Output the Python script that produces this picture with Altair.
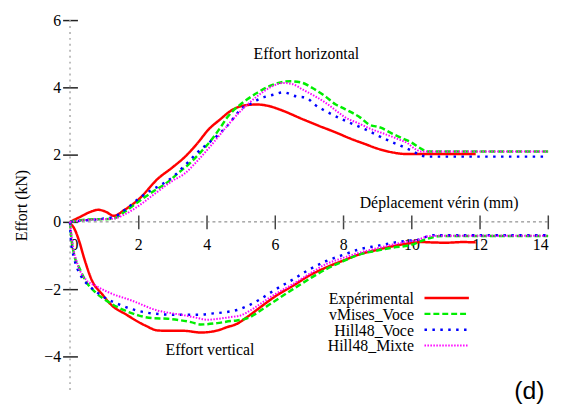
import altair as alt
import pandas as pd

# ---------------- data ----------------
series_names = ["Expérimental", "vMises_Voce", "Hill48_Voce", "Hill48_Mixte"]

# Effort horizontal
exp_h_x = [0, 0.3, 0.6, 0.83, 1.05, 1.28, 1.6, 2.0, 2.58, 3.0, 3.35, 3.7, 4.07, 4.4, 4.69, 5.09, 5.47, 5.8, 6.14,
           6.82, 7.3, 7.78, 8.2, 8.65, 9.0, 9.42, 9.81, 10.5, 11.0, 11.88]
exp_h_y = [0, 0.15, 0.3, 0.36, 0.3, 0.18, 0.36, 0.66, 1.29, 1.62, 1.92, 2.3, 2.76, 3.05, 3.29, 3.46, 3.49, 3.45, 3.34,
           3.05, 2.85, 2.66, 2.48, 2.31, 2.18, 2.07, 2.02, 2.02, 2.02, 2.02]

vm_h_x = [0, 0.3, 0.7, 1.0, 1.28, 1.6, 2.0, 2.4, 2.87, 3.2, 3.54, 3.85, 4.12, 4.4, 4.6, 4.8, 4.99, 5.2, 5.47, 5.8,
          6.1, 6.43, 6.75, 7.1, 7.45, 7.78, 8.0, 8.27, 8.5, 8.75, 9.1, 9.42, 9.7, 10.0, 10.29, 10.45, 11, 12, 13, 14]
vm_h_y = [0, 0.05, 0.08, 0.08, 0.1, 0.3, 0.6, 0.88, 1.19, 1.48, 1.77, 2.1, 2.41, 2.8, 3.1, 3.33, 3.49, 3.65, 3.83,
          4.02, 4.13, 4.18, 4.15, 3.98, 3.75, 3.49, 3.38, 3.24, 3.1, 2.9, 2.8, 2.63, 2.5, 2.36, 2.17, 2.09, 2.09,
          2.09, 2.09, 2.09]

hv_h_x = [0, 0.5, 1.0, 1.3, 1.6, 2.0, 2.29, 2.7, 3.06, 3.4, 3.74, 4.0, 4.31, 4.6, 4.8, 5.0, 5.3, 5.6, 5.95, 6.24,
          6.63, 6.92, 7.16, 7.4, 7.7, 8.07, 8.35, 8.65, 8.95, 9.23, 9.6, 10.0, 10.29, 10.5, 11, 12, 13, 14]
hv_h_y = [0, 0.05, 0.1, 0.15, 0.35, 0.68, 0.89, 1.12, 1.38, 1.72, 2.07, 2.3, 2.56, 2.85, 3.1, 3.35, 3.52, 3.68,
          3.78, 3.85, 3.73, 3.69, 3.49, 3.34, 3.18, 3.0, 2.88, 2.75, 2.6, 2.46, 2.3, 2.12, 1.97, 1.94, 1.94, 1.94,
          1.94, 1.94]

hm_h_x = [0, 0.5, 1.0, 1.3, 1.6, 2.0, 2.5, 3.0, 3.35, 3.7, 4.12, 4.6, 5.0, 5.5, 5.9, 6.24, 6.5, 6.82, 7.15, 7.49,
          7.8, 8.07, 8.45, 8.84, 9.2, 9.61, 9.9, 10.1, 10.3, 11, 12, 13, 14]
hm_h_y = [0, 0.06, 0.08, 0.1, 0.22, 0.47, 0.85, 1.22, 1.43, 1.78, 2.26, 2.85, 3.3, 3.75, 4.02, 4.13, 4.1, 3.93,
          3.75, 3.54, 3.3, 3.1, 2.93, 2.75, 2.62, 2.46, 2.33, 2.17, 2.09, 2.09, 2.09, 2.09, 2.09]

# Effort vertical
exp_v_x = [0, 0.12, 0.27, 0.41, 0.65, 0.94, 1.23, 1.62, 2.2, 2.58, 3.0, 3.35, 3.83, 4.31, 4.6, 4.89, 5.2, 5.57, 6.0,
           6.53, 7.0, 7.49, 8.0, 8.46, 9.0, 9.42, 10.0, 10.3, 10.58, 11.0, 11.5, 11.88]
exp_v_y = [-0.04, -0.19, -0.58, -1.07, -1.76, -2.15, -2.49, -2.74, -3.08, -3.23, -3.24, -3.24, -3.29, -3.23,
           -3.13, -3.03, -2.82, -2.54, -2.22, -1.9, -1.6, -1.36, -1.15, -0.97, -0.83, -0.73, -0.63, -0.6, -0.61,
           -0.62, -0.6, -0.61]

vm_v_x = [0, 0.03, 0.12, 0.27, 0.46, 0.75, 1.14, 1.62, 2.0, 2.39, 2.87, 3.2, 3.54, 3.83, 4.31, 4.7, 4.89, 5.28,
          5.57, 6.0, 6.53, 7.0, 7.49, 8.0, 8.46, 9.0, 9.42, 10.0, 10.38, 10.77, 11, 12, 13, 14]
vm_v_y = [0, -0.38, -0.97, -1.36, -1.76, -2.1, -2.39, -2.64, -2.78, -2.86, -2.88, -2.92, -2.98, -3.05, -3.01,
          -2.95, -2.93, -2.83, -2.64, -2.35, -2.0, -1.7, -1.41, -1.17, -0.97, -0.85, -0.77, -0.68, -0.53, -0.43,
          -0.42, -0.42, -0.42, -0.42]

hv_v_x = [0, 0.03, 0.12, 0.32, 0.56, 0.94, 1.52, 2.2, 2.6, 3.06, 3.5, 3.83, 4.2, 4.51, 4.89, 5.2, 5.57, 6.0, 6.53,
          7.0, 7.49, 8.0, 8.46, 9.0, 9.42, 9.8, 10.2, 10.58, 11, 12, 13, 14]
hv_v_y = [0, -0.58, -1.07, -1.61, -1.9, -2.2, -2.49, -2.69, -2.74, -2.76, -2.76, -2.76, -2.72, -2.69, -2.62, -2.5,
          -2.3, -2.02, -1.71, -1.42, -1.17, -0.98, -0.82, -0.71, -0.63, -0.57, -0.53, -0.4, -0.4, -0.4, -0.4, -0.4]

hm_v_x = [0, 0.08, 0.22, 0.46, 0.75, 1.14, 1.81, 2.58, 3.0, 3.35, 3.7, 4.02, 4.35, 4.7, 5.0, 5.3, 5.57, 6.0, 6.53,
          7.0, 7.49, 8.0, 8.46, 9.0, 9.42, 9.8, 10.2, 10.48, 11, 12, 13, 14]
hm_v_y = [0, -0.68, -1.26, -1.71, -1.9, -2.1, -2.34, -2.64, -2.72, -2.78, -2.85, -2.91, -2.88, -2.83, -2.78, -2.62,
          -2.44, -2.15, -1.85, -1.55, -1.26, -1.07, -0.92, -0.78, -0.68, -0.6, -0.53, -0.43, -0.41, -0.41, -0.41,
          -0.41]

x_ticks = [0, 2, 4, 6, 8, 10, 12, 14]
y_ticks = [-4, -2, 0, 2, 4, 6]

# ---------------- styles ----------------
colors = ["#ff0000", "#00ee00", "#0000ff", "#ff00ff"]
dashes = [[1, 0], [6, 3], [2.5, 5.5], [1.5, 1.5]]
widths = [2.5, 2.5, 2.5, 2.0]
SERIF = "Liberation Serif"

xs = alt.Scale(domain=[0, 14], nice=False, zero=False)
ys = alt.Scale(domain=[-5, 6], nice=False, zero=False)

curves = {
    "Expérimental": [(exp_h_x, exp_h_y), (exp_v_x, exp_v_y)],
    "vMises_Voce": [(vm_h_x, vm_h_y), (vm_v_x, vm_v_y)],
    "Hill48_Voce": [(hv_h_x, hv_h_y), (hv_v_x, hv_v_y)],
    "Hill48_Mixte": [(hm_h_x, hm_h_y), (hm_v_x, hm_v_y)],
}

# ---------------- axes / reference lines ----------------
xaxis = alt.Axis(values=x_ticks, offset=-177, tickSize=14, domain=False, grid=False, title=None,
                 labelFont=SERIF, labelFontSize=16, labelColor="black", labelPadding=8,
                 tickColor="#444", tickWidth=1.5,
                 tickOpacity={"condition": {"test": "datum.value === 0", "value": 0}, "value": 1})
yaxis = alt.Axis(values=y_ticks, offset=-7.5, tickSize=15, domain=False, grid=False,
                 title="Effort (kN)", titleFont=SERIF, titleFontSize=16, titleFontWeight="normal",
                 titleColor="black", titlePadding=14,
                 labelFont=SERIF, labelFontSize=16, labelColor="black", labelPadding=2,
                 tickColor="#222", tickWidth=1.5)


def X(field):
    return alt.X(field, scale=xs, axis=xaxis)


def Y(field):
    return alt.Y(field, scale=ys, axis=yaxis)


hline_df = pd.DataFrame({"x0": [x_ticks[0]], "x1": [x_ticks[-1]], "y": [0]})
hline = alt.Chart(hline_df).mark_rule(color="#777", strokeWidth=1, strokeDash=[3, 3]).encode(
    x=X("x0:Q"), x2="x1:Q", y=Y("y:Q"))

vline_df = pd.DataFrame({"x": [0], "y0": [-5], "y1": [6]})
vline = alt.Chart(vline_df).mark_rule(color="#aaa", strokeWidth=1.5, strokeDash=[2, 4]).encode(
    x=X("x:Q"), y=Y("y0:Q"), y2="y1:Q")

layers = [hline, vline]

# ---------------- curves ----------------
for i, name in enumerate(series_names):
    for k, (cx, cy) in enumerate(curves[name]):
        df = pd.DataFrame({"x": cx, "y": cy})
        layers.append(
            alt.Chart(df).mark_line(color=colors[i], strokeWidth=widths[i], strokeDash=dashes[i],
                                    strokeCap="butt", interpolate="monotone").encode(
                x=X("x:Q"), y=Y("y:Q"))
        )

# ---------------- legend (manual) ----------------
leg_y = [-2.265, -2.735, -3.21, -3.675]
for i, name in enumerate(series_names):
    ldf = pd.DataFrame({"x0": [10.38], "x1": [11.68], "y": [leg_y[i]], "label": [name], "tx": [10.07]})
    layers.append(alt.Chart(ldf).mark_rule(color=colors[i], strokeWidth=widths[i], strokeDash=dashes[i],
                                           strokeCap="butt").encode(
        x=X("x0:Q"), x2="x1:Q", y=Y("y:Q")))
    layers.append(alt.Chart(ldf).mark_text(font=SERIF, fontSize=16, align="right", baseline="middle",
                                           color="black", dy=1).encode(
        x=X("tx:Q"), y=Y("y:Q"), text="label:N"))

# ---------------- annotations ----------------
ann_df = pd.DataFrame({
    "x": [6.92, 4.1, 10.81],
    "y": [5.0, -3.8, 0.57],
    "text": ["Effort horizontal", "Effort vertical", "Déplacement vérin (mm)"],
})
ann = alt.Chart(ann_df).mark_text(font=SERIF, fontSize=16, align="center", baseline="middle",
                                  color="black").encode(
    x=X("x:Q"), y=Y("y:Q"), text="text:N")
layers.append(ann)

d_df = pd.DataFrame({"x": [13.45], "y": [-5.03], "text": ["(d)"]})
dlab = alt.Chart(d_df).mark_text(font="Liberation Sans", fontSize=25, align="center", baseline="middle",
                                 color="black").encode(
    x=X("x:Q"), y=Y("y:Q"), text="text:N")
layers.append(dlab)

chart = alt.layer(*layers).properties(
    width=483.3, height=374,
    autosize=alt.AutoSizeParams(type="none"),
    padding={"left": 62.7, "top": 10, "right": 10, "bottom": 22},
    background="white",
).configure_view(stroke=None).configure_axis(
    labelFont=SERIF, labelFontSize=16, labelColor="black",
    titleFont=SERIF, titleFontSize=16, titleFontWeight="normal", titleColor="black",
)

chart.save("out.html", embed_options={"renderer": "svg", "actions": False})
